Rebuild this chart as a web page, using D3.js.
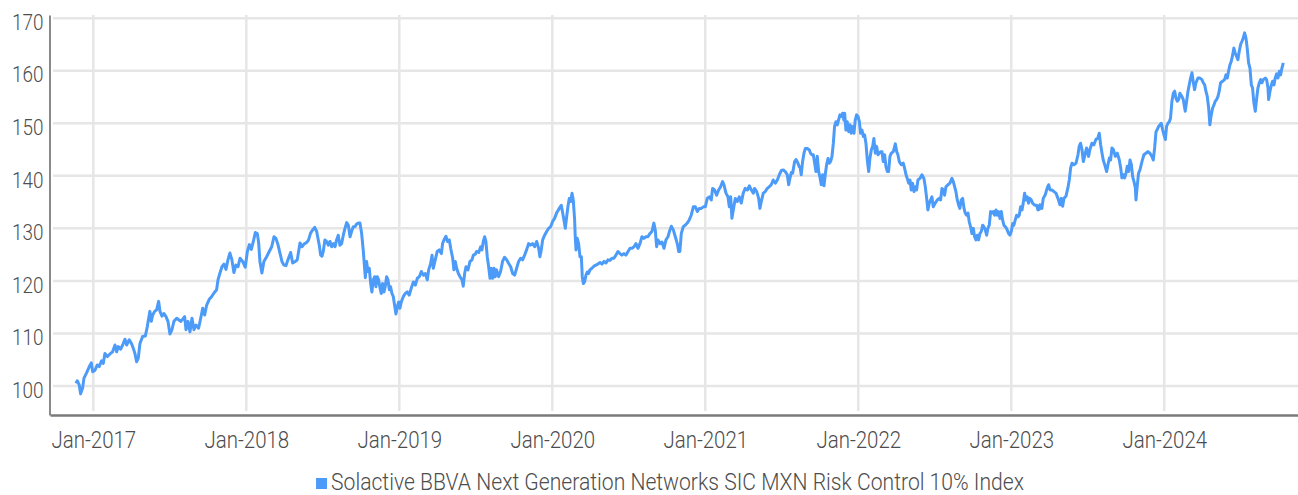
<!doctype html>
<html lang="en">
<head>
  <meta charset="utf-8">
  <title>Solactive BBVA Next Generation Networks SIC MXN Risk Control 10% Index</title>
  <script src="https://d3js.org/d3.v7.min.js"></script>
  <style>
    body { margin: 0; background: #fff; }
    svg text { font-family: Roboto, "DejaVu Sans", sans-serif; font-weight: 300; fill: #4d4d4d; }
  </style>
</head>
<body>
<div id="my_chart"></div>
<script>
  var series_name = "Solactive BBVA Next Generation Networks SIC MXN Risk Control 10% Index";
  var y_ticks = [100, 110, 120, 130, 140, 150, 160, 170];
  var x_tick_years = [2017, 2018, 2019, 2020, 2021, 2022, 2023, 2024];
  var x_tick_labels = ["Jan-2017", "Jan-2018", "Jan-2019", "Jan-2020", "Jan-2021", "Jan-2022", "Jan-2023", "Jan-2024"];

  // [decimal year, index level]
  var index_points = [
    [2016.887,100.5],[2016.895,101.0],[2016.908,100.2],[2016.917,98.5],[2016.930,99.6],[2016.939,101.5],[2016.956,102.5],[2016.974,103.7],[2016.987,104.4],[2016.996,102.7],
    [2017.011,103.0],[2017.026,104.0],[2017.039,103.7],[2017.054,104.8],[2017.065,104.3],[2017.076,106.2],[2017.092,105.6],[2017.109,106.1],[2017.126,106.5],[2017.142,107.8],
    [2017.153,106.5],[2017.163,107.5],[2017.179,107.0],[2017.192,107.8],[2017.207,108.9],[2017.218,107.8],[2017.235,108.8],[2017.251,108.0],[2017.261,107.2],[2017.272,106.2],
    [2017.283,104.6],[2017.294,105.3],[2017.305,108.1],[2017.322,109.4],[2017.340,109.5],[2017.353,111.3],[2017.362,112.9],[2017.370,114.2],[2017.379,112.3],[2017.388,113.5],
    [2017.401,114.2],[2017.414,114.5],[2017.427,116.1],[2017.436,114.2],[2017.449,113.3],[2017.462,113.8],[2017.475,113.2],[2017.488,112.3],[2017.501,109.9],[2017.514,110.7],
    [2017.527,112.3],[2017.545,112.9],[2017.558,112.6],[2017.571,112.3],[2017.584,112.7],[2017.597,113.2],[2017.606,110.7],[2017.619,112.3],[2017.632,110.3],[2017.645,112.9],
    [2017.658,110.7],[2017.671,111.6],[2017.688,111.0],[2017.702,112.9],[2017.715,114.8],[2017.728,113.5],[2017.741,115.4],[2017.758,116.5],[2017.773,117.0],[2017.789,117.7],
    [2017.806,118.3],[2017.815,120.2],[2017.828,121.5],[2017.841,122.7],[2017.854,123.2],[2017.867,122.2],[2017.880,124.0],[2017.893,125.3],[2017.906,124.0],[2017.919,121.6],
    [2017.932,123.0],[2017.946,122.7],[2017.959,124.3],[2017.976,123.7],[2017.993,122.6],[2018.007,125.6],[2018.020,126.9],[2018.033,126.0],[2018.046,127.5],[2018.059,129.2],
    [2018.072,129.0],[2018.081,127.2],[2018.089,123.7],[2018.102,121.5],[2018.115,123.7],[2018.133,124.6],[2018.150,125.6],[2018.166,126.5],[2018.181,128.4],[2018.194,128.1],
    [2018.207,126.9],[2018.220,125.3],[2018.233,123.7],[2018.246,123.0],[2018.259,122.9],[2018.272,124.0],[2018.290,125.4],[2018.303,123.4],[2018.320,123.7],[2018.333,124.0],
    [2018.351,127.2],[2018.364,126.5],[2018.377,127.0],[2018.394,127.3],[2018.407,127.8],[2018.420,129.1],[2018.434,129.7],[2018.447,130.2],[2018.460,129.4],[2018.477,126.8],
    [2018.486,124.9],[2018.495,124.7],[2018.503,125.6],[2018.514,127.8],[2018.525,127.5],[2018.536,126.8],[2018.547,127.5],[2018.558,126.5],[2018.569,127.1],[2018.580,126.5],
    [2018.590,127.8],[2018.601,128.7],[2018.612,126.8],[2018.623,127.1],[2018.634,128.7],[2018.645,130.0],[2018.656,131.1],[2018.667,130.6],[2018.678,128.4],[2018.688,129.4],
    [2018.699,130.3],[2018.710,130.3],[2018.721,130.8],[2018.732,131.0],[2018.743,131.0],[2018.754,129.0],[2018.765,125.6],[2018.771,123.3],[2018.778,120.6],[2018.786,123.7],
    [2018.795,121.8],[2018.804,122.4],[2018.813,119.5],[2018.821,117.9],[2018.830,120.2],[2018.839,120.8],[2018.847,118.9],[2018.856,120.8],[2018.865,120.2],[2018.874,118.6],
    [2018.882,117.6],[2018.891,119.5],[2018.900,117.9],[2018.908,118.9],[2018.917,120.8],[2018.926,120.2],[2018.935,118.3],[2018.943,118.9],[2018.952,117.6],[2018.961,117.0],
    [2018.969,115.4],[2018.978,113.7],[2018.987,115.1],[2018.996,116.0],[2019.004,114.8],[2019.013,116.0],[2019.026,117.0],[2019.039,117.6],[2019.052,117.9],[2019.065,117.3],
    [2019.078,118.6],[2019.092,119.8],[2019.105,119.2],[2019.118,120.5],[2019.131,120.8],[2019.144,121.8],[2019.157,121.1],[2019.170,121.4],[2019.183,120.2],[2019.192,122.1],
    [2019.205,123.3],[2019.214,124.9],[2019.222,122.4],[2019.235,124.0],[2019.248,125.6],[2019.261,125.9],[2019.275,125.2],[2019.283,127.1],[2019.292,127.8],[2019.305,128.5],
    [2019.314,127.5],[2019.327,127.8],[2019.336,126.2],[2019.349,124.3],[2019.357,122.1],[2019.366,123.7],[2019.375,122.4],[2019.386,121.4],[2019.397,120.8],[2019.410,120.2],
    [2019.418,119.0],[2019.427,121.4],[2019.436,122.7],[2019.449,122.1],[2019.462,123.7],[2019.475,124.0],[2019.484,124.9],[2019.497,125.1],[2019.505,125.6],[2019.519,125.4],
    [2019.532,126.5],[2019.540,125.9],[2019.549,127.5],[2019.558,128.4],[2019.566,127.5],[2019.575,124.6],[2019.584,122.7],[2019.593,120.5],[2019.601,122.4],[2019.610,120.5],
    [2019.619,122.4],[2019.627,120.8],[2019.636,122.1],[2019.649,120.8],[2019.662,121.8],[2019.675,123.7],[2019.688,124.5],[2019.702,124.0],[2019.715,123.3],[2019.728,122.7],
    [2019.741,121.4],[2019.754,121.1],[2019.767,122.4],[2019.780,123.7],[2019.793,124.3],[2019.806,124.0],[2019.819,124.9],[2019.832,125.9],[2019.845,127.1],[2019.858,126.8],
    [2019.871,127.1],[2019.885,126.5],[2019.898,127.5],[2019.911,126.2],[2019.919,124.6],[2019.928,125.9],[2019.937,127.8],[2019.950,128.7],[2019.963,129.4],[2019.976,130.0],
    [2019.989,130.3],[2020.002,131.3],[2020.015,131.9],[2020.028,132.9],[2020.046,133.8],
    [2020.059,134.4],[2020.068,132.9],[2020.076,131.6],[2020.085,130.0],[2020.094,132.2],[2020.102,134.1],[2020.111,135.7],[2020.120,135.1],[2020.129,136.7],[2020.137,135.4],
    [2020.146,131.6],[2020.150,128.4],[2020.155,125.9],[2020.163,128.1],[2020.172,127.1],[2020.181,124.6],[2020.190,124.6],[2020.196,120.8],[2020.203,119.5],[2020.211,119.8],
    [2020.220,121.1],[2020.229,121.7],[2020.237,121.4],[2020.246,122.1],[2020.259,122.4],[2020.272,122.8],[2020.285,123.0],[2020.298,123.2],[2020.312,123.5],[2020.325,123.2],
    [2020.338,123.7],[2020.351,123.4],[2020.364,124.0],[2020.377,123.9],[2020.390,124.3],[2020.403,124.3],[2020.416,124.9],[2020.429,125.6],[2020.442,125.2],[2020.455,124.9],
    [2020.468,125.2],[2020.481,124.9],[2020.495,125.6],[2020.508,126.2],[2020.521,126.2],[2020.534,126.5],[2020.547,127.1],[2020.560,126.2],[2020.573,127.1],[2020.586,128.4],
    [2020.599,128.1],[2020.612,128.4],[2020.625,128.4],[2020.638,129.0],[2020.651,129.4],[2020.664,131.0],[2020.673,129.7],[2020.682,126.5],[2020.691,127.8],[2020.704,127.1],
    [2020.717,127.4],[2020.730,126.2],[2020.743,127.8],[2020.756,128.4],[2020.769,129.7],[2020.778,130.4],[2020.791,129.7],[2020.804,128.4],[2020.817,127.1],[2020.826,125.6],
    [2020.834,125.6],[2020.843,129.0],[2020.856,130.3],[2020.869,130.6],[2020.882,131.0],[2020.895,131.6],[2020.908,132.5],[2020.922,134.1],[2020.935,134.1],[2020.948,133.2],
    [2020.961,133.8],[2020.974,133.8],[2020.987,134.1],[2021.000,134.1],[2021.013,135.7],[2021.026,136.0],[2021.039,135.4],[2021.048,137.6],[2021.061,137.3],[2021.074,136.3],
    [2021.087,137.3],[2021.100,137.9],[2021.113,138.9],[2021.122,138.3],[2021.135,136.7],[2021.148,136.0],[2021.157,134.1],[2021.166,136.0],[2021.174,131.9],[2021.183,133.5],
    [2021.196,135.7],[2021.209,135.1],[2021.222,136.0],[2021.235,134.8],[2021.248,136.7],[2021.261,137.6],[2021.275,137.3],[2021.288,138.1],[2021.301,137.3],[2021.314,136.7],
    [2021.322,137.6],[2021.336,137.0],[2021.349,135.7],[2021.357,133.8],[2021.366,135.1],[2021.379,136.7],[2021.392,137.0],[2021.405,137.6],[2021.418,137.9],[2021.431,138.3],
    [2021.444,139.2],[2021.458,138.6],[2021.471,139.2],[2021.484,140.2],[2021.497,141.0],[2021.510,141.1],[2021.523,140.8],[2021.536,140.2],[2021.545,138.3],[2021.553,139.5],
    [2021.562,140.6],[2021.571,140.5],[2021.584,142.7],[2021.593,143.1],[2021.606,142.4],[2021.614,141.7],
    [2021.619,141.7],[2021.627,140.2],[2021.636,142.7],[2021.645,144.3],[2021.654,145.2],[2021.667,145.2],[2021.680,144.9],[2021.688,144.3],[2021.697,144.0],[2021.706,144.0],
    [2021.715,142.4],[2021.723,140.8],[2021.732,143.7],[2021.741,140.8],[2021.749,139.8],[2021.758,138.3],[2021.767,140.2],[2021.776,138.1],[2021.784,140.2],[2021.793,142.1],
    [2021.802,143.3],[2021.810,142.4],[2021.819,142.7],[2021.828,143.7],[2021.837,146.2],[2021.845,149.4],[2021.854,150.3],[2021.863,149.7],[2021.871,150.6],[2021.880,151.6],
    [2021.889,151.3],[2021.897,151.9],[2021.906,150.6],[2021.911,151.9],[2021.919,148.7],[2021.928,150.3],[2021.937,148.4],[2021.946,149.7],[2021.954,148.1],[2021.963,149.4],
    [2021.972,148.1],[2021.980,150.6],[2021.989,151.6],[2021.998,151.3],[2022.007,150.3],[2022.015,148.1],[2022.024,148.7],[2022.033,147.5],[2022.041,147.8],[2022.050,146.2],
    [2022.059,143.0],[2022.068,140.8],[2022.076,143.3],[2022.085,144.9],[2022.094,145.6],[2022.102,147.1],[2022.111,144.3],[2022.120,145.6],[2022.129,144.0],[2022.137,144.3],
    [2022.146,144.6],[2022.155,144.6],[2022.163,142.7],[2022.172,144.0],[2022.181,141.7],[2022.190,140.8],[2022.198,140.8],[2022.207,143.7],[2022.216,144.3],[2022.229,144.6],
    [2022.242,146.1],[2022.251,144.6],[2022.259,144.0],[2022.268,142.7],[2022.281,142.1],[2022.294,142.4],[2022.303,141.4],[2022.312,140.2],[2022.320,139.5],[2022.329,138.6],
    [2022.338,139.2],[2022.346,137.3],[2022.355,138.6],[2022.364,137.0],[2022.373,137.9],[2022.381,137.3],[2022.390,139.2],[2022.403,139.5],[2022.416,140.2],[2022.429,139.5],
    [2022.438,137.9],[2022.447,135.7],[2022.455,133.5],[2022.464,134.8],[2022.473,135.4],[2022.481,136.0],[2022.490,134.1],[2022.503,134.8],[2022.516,135.4],[2022.529,135.7],
    [2022.538,135.4],[2022.547,137.6],[2022.556,137.3],[2022.564,136.3],[2022.573,137.9],[2022.586,138.3],[2022.599,138.6],[2022.612,139.5],[2022.621,138.9],[2022.630,137.9],
    [2022.638,137.0],[2022.647,135.4],[2022.656,134.4],[2022.664,133.8],[2022.673,135.4],[2022.682,135.7],[2022.691,133.8],[2022.699,132.9],[2022.708,132.5],[2022.717,132.9],
    [2022.725,131.3],[2022.734,130.3],[2022.743,129.0],[2022.752,130.0],[2022.760,128.4],[2022.769,127.8],[2022.778,128.7],[2022.786,127.8],[2022.795,129.0],[2022.804,129.4],
    [2022.813,130.6],[2022.821,130.3],[2022.830,129.7],[2022.839,128.7],[2022.847,130.0],[2022.856,130.6],[2022.865,133.2],[2022.874,132.9],[2022.882,133.2],[2022.891,132.5],
    [2022.900,133.5],[2022.908,132.5],[2022.917,133.2],[2022.926,131.9],[2022.935,133.2],[2022.943,131.6],[2022.952,130.6],[2022.961,130.3],[2022.969,130.0],[2022.983,129.0],
    [2022.991,128.7],[2023.000,129.4],[2023.009,130.9],[2023.017,130.6],[2023.026,131.6],[2023.035,132.5],[2023.044,132.2],[2023.052,132.5],[2023.061,134.1],[2023.070,133.5],
    [2023.078,134.8],[2023.087,136.7],[2023.096,135.4],[2023.105,136.0],[2023.113,134.8],[2023.122,135.7],[2023.131,135.4],[2023.139,134.8],[2023.153,134.4],[2023.166,134.4],
    [2023.174,133.5],[2023.183,133.6],
    [2023.187,134.5],[2023.200,133.8],[2023.209,135.7],[2023.222,136.4],[2023.235,137.7],[2023.244,138.3],[2023.253,137.3],[2023.266,137.3],[2023.279,137.0],[2023.292,136.7],
    [2023.305,135.7],[2023.318,134.5],[2023.327,135.7],[2023.336,134.2],[2023.344,135.7],[2023.357,136.1],[2023.370,137.7],[2023.379,139.2],[2023.388,141.5],[2023.397,142.4],
    [2023.410,142.1],[2023.423,142.4],[2023.436,144.0],[2023.444,145.6],[2023.453,146.2],[2023.462,145.0],[2023.471,142.7],[2023.484,144.3],[2023.492,145.3],[2023.505,143.7],
    [2023.514,145.0],[2023.527,146.2],[2023.540,145.9],[2023.553,146.9],[2023.566,147.2],[2023.575,148.1],[2023.584,145.9],[2023.593,144.3],[2023.601,143.0],[2023.614,141.8],
    [2023.623,140.8],[2023.632,142.1],[2023.641,143.4],[2023.649,143.0],[2023.658,145.3],[2023.667,145.0],[2023.680,143.7],[2023.693,144.3],[2023.706,143.0],[2023.715,141.5],
    [2023.723,139.6],[2023.732,140.2],[2023.741,139.6],[2023.750,140.5],[2023.758,141.8],[2023.767,140.8],[2023.776,143.0],[2023.785,142.1],[2023.793,139.9],[2023.802,138.9],
    [2023.811,137.7],[2023.815,135.4],[2023.824,138.3],[2023.832,140.5],[2023.841,141.1],[2023.854,142.7],[2023.867,144.0],[2023.880,144.3],[2023.893,144.6],[2023.906,144.3],
    [2023.919,143.7],[2023.928,143.0],[2023.937,145.3],[2023.946,148.4],[2023.954,148.8],[2023.963,149.4],[2023.972,149.7],[2023.980,150.0],[2023.989,148.8],[2023.998,147.8],
    [2024.007,146.9],[2024.015,149.4],[2024.024,150.0],[2024.033,150.3],[2024.041,151.0],[2024.050,154.2],[2024.059,155.7],[2024.068,156.1],[2024.076,154.8],[2024.085,154.2],
    [2024.094,154.5],[2024.102,155.7],[2024.115,155.1],[2024.124,154.5],[2024.137,152.3],[2024.146,154.2],[2024.155,156.1],[2024.163,157.3],[2024.172,158.6],[2024.181,159.6],
    [2024.190,157.7],[2024.198,156.4],[2024.207,157.7],[2024.220,158.6],[2024.233,158.6],[2024.246,158.3],[2024.255,157.7],[2024.264,157.3],[2024.272,156.1],[2024.281,155.1],
    [2024.290,152.9],[2024.298,149.7],[2024.307,151.6],[2024.316,152.9],[2024.325,153.5],[2024.333,154.2],[2024.342,154.5],[2024.351,155.1],[2024.359,156.1],[2024.368,157.7],
    [2024.381,158.0],[2024.394,158.3],[2024.403,159.2],[2024.412,158.6],[2024.420,159.9],[2024.429,161.1],[2024.438,161.8],[2024.447,163.0],[2024.455,164.3],[2024.464,163.3],
    [2024.473,162.7],[2024.481,162.1],[2024.490,163.7],[2024.499,165.0],[2024.508,165.6],[2024.516,166.2],[2024.525,167.2],[2024.534,166.2],[2024.542,164.3],[2024.551,161.5],
    [2024.560,160.5],[2024.569,157.3],[2024.577,156.7],[2024.586,153.8],[2024.595,152.3],[2024.603,154.5],[2024.612,156.7],[2024.621,157.7],[2024.630,158.3],[2024.638,157.7],
    [2024.647,158.3],[2024.660,158.6],[2024.669,158.3],[2024.678,156.7],[2024.682,154.5],[2024.691,156.1],[2024.700,157.3],[2024.708,158.0],[2024.717,157.3],[2024.725,158.6],
    [2024.734,159.4],[2024.743,158.6],[2024.752,159.9],[2024.760,159.2],[2024.769,160.5],[2024.778,161.5]
  ];

  var width = 1298;
  var height = 495;
  var margin = {top: 15, right: 0, bottom: 80, left: 50};
  var line_color = "#4c9bf8";

  // the reference face is a narrow one; squeeze the installed face to a similar width
  function condense(sel, k) {
    sel.each(function() {
      var w = this.getComputedTextLength();
      d3.select(this).attr('textLength', w * k).attr('lengthAdjust', 'spacingAndGlyphs');
    });
  }

  var x_scale = d3.scaleLinear()
    .domain([2016.717, 2024.874])
    .range([margin.left, width - margin.right]);
  var y_scale = d3.scaleLinear()
    .domain([94.48, 170.6])
    .range([height - margin.bottom, margin.top]);

  var chart = d3.select('#my_chart').append('svg')
    .attr('width', width)
    .attr('height', height)
    .style('display', 'block');

  // grid
  chart.append('g').selectAll('line')
    .data(y_ticks)
    .enter().append('line')
      .attr('x1', margin.left + 3)
      .attr('x2', width)
      .attr('y1', d => y_scale(d))
      .attr('y2', d => y_scale(d))
      .attr('stroke', '#e6e6e6')
      .attr('stroke-width', 2.5);
  chart.append('g').selectAll('line')
    .data(x_tick_years)
    .enter().append('line')
      .attr('x1', d => x_scale(d))
      .attr('x2', d => x_scale(d))
      .attr('y1', margin.top)
      .attr('y2', height - margin.bottom - 4)
      .attr('stroke', '#e6e6e6')
      .attr('stroke-width', 2.5);

  // axes
  var y_axis = chart.append('g')
    .attr('transform', 'translate(' + (margin.left - 0.5) + ',0)')
    .call(d3.axisLeft(y_scale).tickValues(y_ticks).tickSize(0).tickSizeOuter(0).tickPadding(6));
  y_axis.select('.domain').attr('stroke', '#8a8a8a').attr('stroke-width', 2);
  y_axis.selectAll('text')
    .attr('dy', '0.5em')
    .style('font-size', '22.5px')
    .style('fill', '#4d4d4d')
    .call(condense, 0.84);

  var x_axis = chart.append('g')
    .attr('transform', 'translate(0,' + (height - margin.bottom) + ')')
    .call(d3.axisBottom(x_scale).tickValues(x_tick_years)
      .tickFormat((d, i) => x_tick_labels[i])
      .tickSize(0).tickSizeOuter(0).tickPadding(17));
  x_axis.select('.domain').attr('stroke', '#7a7a7a').attr('stroke-width', 2.5);
  x_axis.selectAll('text')
    .style('font-size', '23px')
    .style('fill', '#4d4d4d')
    .call(condense, 0.89);

  // series line
  var line = d3.line()
    .x(d => x_scale(d[0]))
    .y(d => y_scale(d[1]));
  chart.append('path')
    .datum(index_points)
    .attr('d', line)
    .attr('fill', 'none')
    .attr('stroke', line_color)
    .attr('stroke-width', 3)
    .attr('stroke-linejoin', 'round');

  // legend
  var legend = chart.append('g');
  var legend_text = legend.append('text')
    .attr('x', 15)
    .attr('y', 490)
    .style('font-size', '23px')
    .style('fill', '#4d4d4d')
    .text(series_name)
    .call(condense, 0.918);
  legend.append('rect')
    .attr('x', 0)
    .attr('y', 478)
    .attr('width', 11)
    .attr('height', 11)
    .attr('fill', line_color);
  var legend_w = 15 + (+legend_text.attr('textLength'));
  legend.attr('transform', 'translate(' + (670 - legend_w / 2) + ',0)');
</script>
</body>
</html>
